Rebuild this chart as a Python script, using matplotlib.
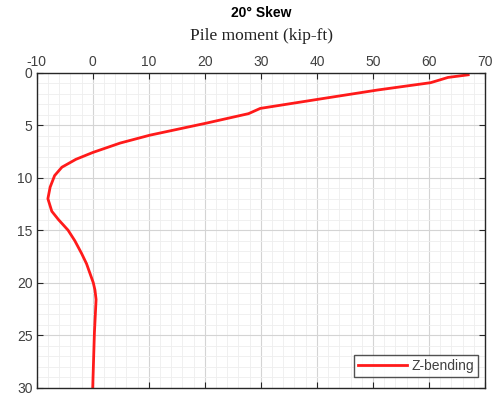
import numpy as np
import matplotlib.pyplot as plt
from matplotlib.ticker import MultipleLocator

plt.rcParams['axes.unicode_minus'] = False
plt.rcParams['font.family'] = 'Liberation Sans'

# pile moment (kip-ft) vs depth (ft)
moment = [67.0, 63.4, 60.3, 50.8, 40.6, 29.9, 27.8, 20.3, 10.2, 4.9, 0.0, -3.0, -5.5,
          -6.8, -7.6, -8.0, -7.3, -6.1, -4.4, -3.2, -2.0, -1.1, -0.5, 0.1, 0.4, 0.6, 0.3, 0.0]
depth = [0.2, 0.45, 0.95, 1.65, 2.5, 3.4, 3.9, 4.8, 5.95, 6.7, 7.6, 8.25, 9.0,
         9.8, 10.9, 12.0, 13.2, 14.0, 15.0, 16.0, 17.2, 18.2, 19.1, 20.0, 20.7, 21.6, 24.8, 30.0]

fig = plt.figure(figsize=(4.93, 3.96), dpi=100)
ax = fig.add_axes([0.0744, 0.021, 0.9094, 0.7954])

ax.plot(moment, depth, color='#ff1a1a', lw=2, label='Z-bending')

ax.set_xlim(-10, 70)
ax.set_ylim(30, 0)
ax.xaxis.set_major_locator(MultipleLocator(10))
ax.xaxis.set_minor_locator(MultipleLocator(2))
ax.yaxis.set_major_locator(MultipleLocator(5))
ax.yaxis.set_minor_locator(MultipleLocator(1))
ax.xaxis.tick_top()
ax.tick_params(which='both', direction='in', top=True, bottom=True, left=True, right=True,
               labelsize=10, labelcolor='#404040', color='#262626')
ax.tick_params(which='major', length=4, pad=3)
ax.tick_params(which='minor', length=0)
ax.grid(which='major', color='#d4d4d4', lw=0.8)
ax.grid(which='minor', color='#eeeeee', lw=0.6)
ax.set_axisbelow(True)
for s in ax.spines.values():
    s.set_color('#262626')
    s.set_linewidth(1.0)

fig.text(0.53, 0.968, '20° Skew', ha='center', va='center', fontsize=10, fontweight='bold')
fig.text(0.531, 0.91, 'Pile moment (kip-ft)', ha='center', va='center', fontsize=12.5,
         family='Liberation Serif', color='#222222')

leg = ax.legend(loc='lower right', fontsize=10, frameon=True, fancybox=False,
                borderpad=0.3, handlelength=3.5, handletextpad=0.3, borderaxespad=0,
                bbox_to_anchor=(0.984, 0.034))
leg.get_frame().set_edgecolor('#262626')
leg.get_frame().set_linewidth(1.0)
for t in leg.get_texts():
    t.set_color('#404040')

fig.savefig('out.png', dpi=100)
